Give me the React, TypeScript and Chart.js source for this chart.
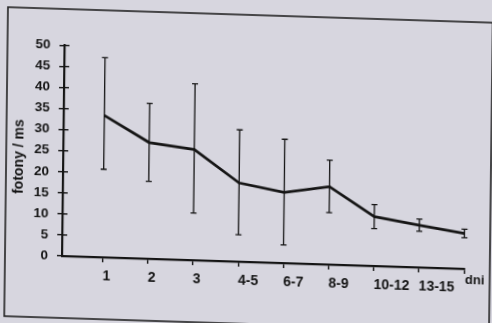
import { useEffect, useRef } from "react";
import { Chart, registerables } from "chart.js";

Chart.register(...registerables);

// ---- data ----
const xLabels = ["1", "2", "3", "4-5", "6-7", "8-9", "10-12", "13-15", ""];
const unitLabel = "dni";
const xPositions = [1, 2, 3, 4, 5, 6, 7, 8, 9];
const means = [33.7, 27.6, 26.3, 18.7, 16.8, 18.5, 11.7, 10.0, 8.4];
const upper = [47.4, 36.9, 41.9, 31.3, 29.4, 24.8, 14.6, 11.5, 9.4];
const lower = [20.9, 18.4, 11.2, 6.4, 4.3, 12.3, 8.9, 8.6, 7.4];
const yTicks = [0, 5, 10, 15, 20, 25, 30, 35, 40, 45, 50];
const yTitle = "fotony / ms";

const BG = "#d7d6df";
const INK = "#151515";
const FONT = "'Liberation Sans', Arial, sans-serif";

export default function App() {
  const ref = useRef<HTMLCanvasElement>(null);

  useEffect(() => {
    document.body.style.margin = "0";
    document.body.style.background = BG;
    const canvas = ref.current;
    if (!canvas) return;

    const framePlugin = {
      id: "frame",
      beforeDraw(chart: any) {
        const ctx = chart.ctx;
        ctx.save();
        ctx.strokeStyle = "#222";
        ctx.lineWidth = 1.6;
        ctx.strokeRect(5, 9, 485, 309);
        ctx.restore();
      },
    };

    const errorBarPlugin = {
      id: "errorBars",
      afterDatasetsDraw(chart: any) {
        const ctx = chart.ctx;
        const xs = chart.scales.x;
        const ys = chart.scales.y;
        ctx.save();
        ctx.strokeStyle = INK;
        ctx.lineWidth = 1.3;
        xPositions.forEach((xv, i) => {
          const px = xs.getPixelForValue(xv);
          const pt = ys.getPixelForValue(upper[i]);
          const pb = ys.getPixelForValue(lower[i]);
          ctx.beginPath();
          ctx.moveTo(px, pt);
          ctx.lineTo(px, pb);
          ctx.moveTo(px - 3, pt);
          ctx.lineTo(px + 3, pt);
          ctx.moveTo(px - 3, pb);
          ctx.lineTo(px + 3, pb);
          ctx.stroke();
        });
        ctx.restore();
      },
    };

    const annotationsPlugin = {
      id: "annotations",
      afterDraw(chart: any) {
        const ctx = chart.ctx;
        const ys = chart.scales.y;
        const xs = chart.scales.x;
        const left = chart.chartArea.left;
        ctx.save();
        ctx.strokeStyle = INK;
        ctx.lineWidth = 1.4;
        ys.ticks.forEach((t: any) => {
          if (t.value === 0) return;
          const py = ys.getPixelForValue(t.value);
          ctx.beginPath();
          ctx.moveTo(left, py);
          ctx.lineTo(left + 5, py);
          ctx.stroke();
        });
        ctx.fillStyle = INK;
        // unit label at the end of the x axis
        ctx.font = `bold 13px ${FONT}`;
        ctx.textAlign = "left";
        ctx.textBaseline = "middle";
        ctx.fillText(unitLabel, xs.getPixelForValue(9) + 1, 267);
        // y axis title
        ctx.font = `bold 14px ${FONT}`;
        ctx.textAlign = "center";
        ctx.translate(18, 158);
        ctx.rotate(-Math.PI / 2);
        ctx.fillText(yTitle, 0, 0);
        ctx.restore();
      },
    };

    const chart = new Chart(canvas, {
      type: "line",
      data: {
        datasets: [
          {
            data: xPositions.map((x, i) => ({ x, y: means[i] })),
            borderColor: INK,
            borderWidth: 2.8,
            pointRadius: 0,
            tension: 0,
            fill: false,
          },
        ],
      },
      options: {
        animation: false,
        responsive: false,
        devicePixelRatio: 1,
        events: [],
        layout: { padding: { left: 0, top: 45.5, right: 27.7, bottom: 0 } },
        plugins: {
          legend: { display: false },
          tooltip: { enabled: false },
        },
        scales: {
          x: {
            type: "linear",
            min: 0.1,
            max: 9,
            afterBuildTicks: (s: any) => {
              s.ticks = xPositions.map((v) => ({ value: v }));
            },
            afterFit: (s: any) => {
              s.height = 67;
            },
            ticks: {
              callback: (v: any) => {
                const i = xPositions.indexOf(Number(v));
                return i >= 0 ? xLabels[i] : "";
              },
              align: "start",
              maxRotation: 0,
              minRotation: 0,
              autoSkip: false,
              padding: 6,
              color: INK,
              font: { family: FONT, size: 14, weight: "bold" },
            },
            grid: {
              drawOnChartArea: false,
              drawTicks: true,
              tickLength: 5,
              color: INK,
              lineWidth: 1.4,
            },
            border: { display: true, color: INK, width: 2.2 },
          },
          y: {
            type: "linear",
            min: 0,
            max: 50,
            afterBuildTicks: (s: any) => {
              s.ticks = yTicks.map((v) => ({ value: v }));
            },
            afterFit: (s: any) => {
              s.width = 62;
            },
            ticks: {
              padding: 9,
              color: INK,
              font: { family: FONT, size: 13.5, weight: "bold" },
            },
            grid: {
              drawOnChartArea: false,
              drawTicks: true,
              tickLength: 5,
              color: INK,
              lineWidth: 1.4,
            },
            border: { display: true, color: INK, width: 2.2 },
          },
        },
      },
      plugins: [framePlugin, errorBarPlugin, annotationsPlugin],
    } as any);

    return () => chart.destroy();
  }, []);

  return (
    <div
      style={{
        position: "fixed",
        left: 0,
        top: 0,
        width: 492,
        height: 323,
        background: BG,
        overflow: "hidden",
      }}
    >
      <canvas
        ref={ref}
        width={492}
        height={323}
        style={{
          position: "absolute",
          left: 0,
          top: 0,
          width: 492,
          height: 323,
          transform: "matrix(1, 0.032, -0.012, 1, 0, 0)",
          transformOrigin: "62px 256px",
        }}
      />
    </div>
  );
}
